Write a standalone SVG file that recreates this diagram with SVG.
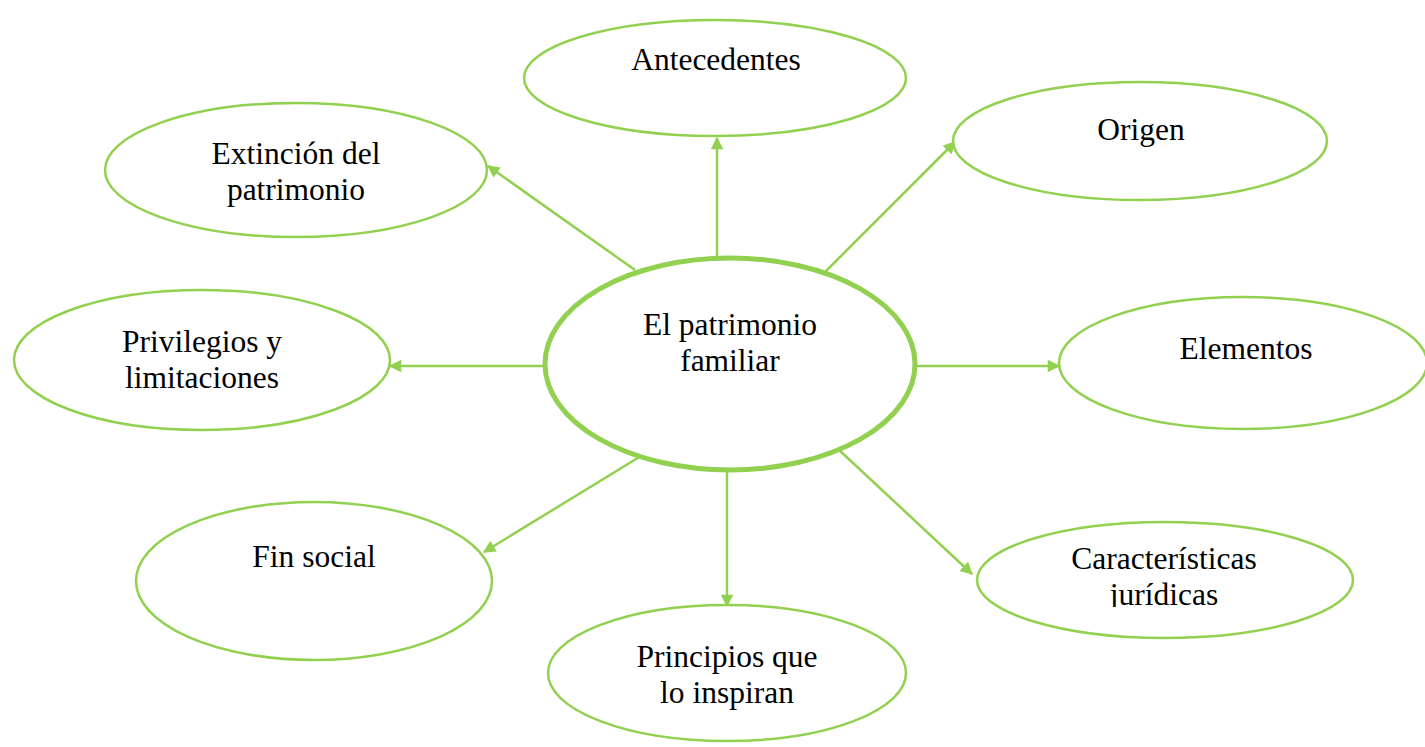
<svg xmlns="http://www.w3.org/2000/svg" width="1425" height="747" viewBox="0 0 1425 747">
<style>
.n{fill:#fff;stroke:#92D050;stroke-width:2.5}
.c{fill:#fff;stroke:#92D050;stroke-width:5}
.t{font-family:"Liberation Serif","Times New Roman",serif;font-size:31.5px;fill:#000;text-anchor:middle}
.e{stroke:#92D050;stroke-width:2.5;fill:none;marker-end:url(#a)}
</style>
<defs>
<marker id="a" viewBox="0 0 10 10" refX="9" refY="5" markerWidth="5.5" markerHeight="5" orient="auto" markerUnits="strokeWidth">
<path d="M0,0 L10,5 L0,10 Z" fill="#92D050"/>
</marker>
<clipPath id="cl"><rect x="900" y="500" width="525" height="107"/></clipPath>
</defs>
<rect width="1425" height="747" fill="#fff"/>
<g id="connectors">
<line class="e" x1="717" y1="258" x2="717" y2="138"/>
<line class="e" x1="825" y1="272" x2="955" y2="142"/>
<line class="e" x1="635" y1="270" x2="488" y2="166"/>
<line class="e" x1="543" y1="366" x2="390" y2="366"/>
<line class="e" x1="917" y1="366" x2="1059" y2="366"/>
<line class="e" x1="641" y1="456" x2="484" y2="552"/>
<line class="e" x1="727" y1="466" x2="727" y2="606"/>
<line class="e" x1="838" y1="449" x2="972" y2="574"/>
</g>
<g id="center">
<ellipse class="c" cx="730" cy="364" rx="185" ry="106"/>
<text class="t" x="730" y="335">El patrimonio</text>
<text class="t" x="730" y="371">familiar</text>
</g>
<g id="antecedentes">
<ellipse class="n" cx="715" cy="78" rx="191" ry="58"/>
<text class="t" x="716" y="70">Antecedentes</text>
</g>
<g id="origen">
<ellipse class="n" cx="1140" cy="141" rx="187" ry="59"/>
<text class="t" x="1141" y="140">Origen</text>
</g>
<g id="extincion">
<ellipse class="n" cx="296" cy="170" rx="191" ry="67"/>
<text class="t" x="296" y="164">Extinción del</text>
<text class="t" x="296" y="200">patrimonio</text>
</g>
<g id="privilegios">
<ellipse class="n" cx="202" cy="360" rx="188" ry="70"/>
<text class="t" x="202" y="352">Privilegios y</text>
<text class="t" x="202" y="388">limitaciones</text>
</g>
<g id="elementos">
<ellipse class="n" cx="1243" cy="363" rx="184" ry="66"/>
<text class="t" x="1246" y="359">Elementos</text>
</g>
<g id="finsocial">
<ellipse class="n" cx="314" cy="581" rx="178" ry="79"/>
<text class="t" x="314" y="567">Fin social</text>
</g>
<g id="principios">
<ellipse class="n" cx="727" cy="673" rx="179" ry="68"/>
<text class="t" x="727" y="667">Principios que</text>
<text class="t" x="727" y="703">lo inspiran</text>
</g>
<g id="caracteristicas">
<ellipse class="n" cx="1165" cy="580" rx="188" ry="58"/>
<g clip-path="url(#cl)">
<text class="t" x="1164" y="569">Características</text>
<text class="t" x="1164" y="605">jurídicas</text>
</g>
</g>
</svg>
